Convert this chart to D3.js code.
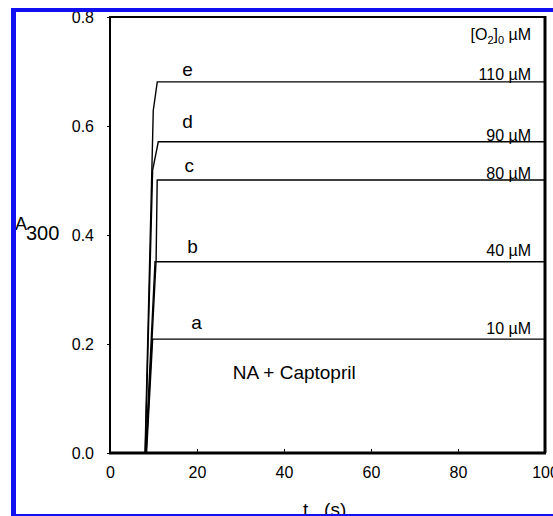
<!DOCTYPE html>
<html>
<head>
<meta charset="utf-8">
<script src="https://cdn.jsdelivr.net/npm/d3@7"></script>
<style>
  body { margin: 0; background: #fff; }
  svg { display: block; font-family: "Liberation Sans", Arial, sans-serif; }
  .tick text { font-size: 16px; fill: #000; }
</style>
</head>
<body>
<svg id="chart" width="553" height="516"></svg>
<script>
// ── Data ──────────────────────────────────────────────────────────────────────
const curveNames = ["a", "b", "c", "d", "e"];
const concLabels = ["10 µM", "40 µM", "80 µM", "90 µM", "110 µM"];
// time (s) and A300 points for each trace: fast rise then flat plateau
const seriesT = [
  [8.4, 9.8, 100],
  [8.2, 10.35, 100],
  [8.3, 10.6, 10.85, 100],
  [8.1, 9.8, 11.1, 100],
  [8.05, 9.95, 10.87, 100]
];
const seriesA = [
  [0, 0.209, 0.209],
  [0, 0.351, 0.351],
  [0, 0.354, 0.501, 0.501],
  [0, 0.519, 0.571, 0.571],
  [0, 0.629, 0.681, 0.681]
];
// where the curve letters and the concentration labels sit (data units)
const letterT = [19.9, 19, 18.2, 17.8, 17.8];
const letterA = [0.2275, 0.367, 0.516, 0.596, 0.692];
const concA   = [0.218, 0.361, 0.503, 0.572, 0.684];
const xTicks = [0, 20, 40, 60, 80, 100];
const yTicks = [0.0, 0.2, 0.4, 0.6, 0.8];

// ── Layout ────────────────────────────────────────────────────────────────────
const svg = d3.select("#chart");
const L = 110, R = 545, T = 17, B = 453;

const x = d3.scaleLinear().domain([0, 100]).range([L, R]);
const y = d3.scaleLinear().domain([0, 0.8]).range([B, T]);

// frame
svg.append("rect")
  .attr("x", L).attr("y", T).attr("width", R - L).attr("height", B - T)
  .attr("fill", "none").attr("stroke", "#000").attr("stroke-width", 2);
svg.append("line")
  .attr("x1", L - 1).attr("x2", R + 1).attr("y1", B).attr("y2", B)
  .attr("stroke", "#000").attr("stroke-width", 3);
svg.append("line")
  .attr("x1", R).attr("x2", R).attr("y1", T - 1).attr("y2", B)
  .attr("stroke", "#000").attr("stroke-width", 3);

// axes
const xAxis = svg.append("g")
  .attr("transform", `translate(0,${B})`)
  .call(d3.axisBottom(x).tickValues(xTicks).tickFormat(d3.format("d"))
    .tickSizeInner(-4).tickSizeOuter(0).tickPadding(12));
xAxis.select(".domain").remove();
xAxis.selectAll(".tick line").attr("stroke", "#000");
xAxis.selectAll(".tick text").attr("dy", "0.71em").attr("y", 14);

const yAxis = svg.append("g")
  .attr("transform", `translate(${L},0)`)
  .call(d3.axisLeft(y).tickValues(yTicks).tickFormat(d3.format(".1f"))
    .tickSizeInner(3).tickSizeOuter(0).tickPadding(13));
yAxis.select(".domain").remove();
yAxis.selectAll(".tick line").attr("stroke", "#000");

// traces
const line = d3.line().x(d => x(d[0])).y(d => y(d[1]));
const traces = seriesT.map((ts, i) => ts.map((t, j) => [t, seriesA[i][j]]));

svg.append("g")
  .selectAll("path").data(traces).join("path")
  .attr("d", line)
  .attr("fill", "none")
  .attr("stroke", "#000")
  .attr("stroke-width", 1.4);

// curve letters
svg.append("g")
  .selectAll("text").data(curveNames).join("text")
  .attr("x", (d, i) => x(letterT[i]))
  .attr("y", (d, i) => y(letterA[i]))
  .attr("text-anchor", "middle")
  .style("font-size", "19px")
  .text(d => d);

// concentration labels
svg.append("g")
  .selectAll("text").data(concLabels).join("text")
  .attr("x", x(96.8))
  .attr("y", (d, i) => y(concA[i]))
  .attr("text-anchor", "end")
  .style("font-size", "16px")
  .text(d => d);

// [O2]0 µM header
const hdr = svg.append("text")
  .attr("x", x(96.8)).attr("y", 40)
  .attr("text-anchor", "end")
  .style("font-size", "16px");
hdr.append("tspan").text("[O");
hdr.append("tspan").attr("dy", 4).style("font-size", "11px").text("2");
hdr.append("tspan").attr("dy", -4).text("]");
hdr.append("tspan").attr("dy", 4).style("font-size", "11px").text("0");
hdr.append("tspan").attr("dy", -4).text(" µM");

svg.append("text")
  .attr("x", x(28.2)).attr("y", y(0.135))
  .style("font-size", "19px")
  .text("NA + Captopril");

// axis titles
svg.append("text").attr("x", 15).attr("y", 230)
  .style("font-size", "18px").text("A");
svg.append("text").attr("x", 26).attr("y", 240)
  .style("font-size", "20px").text("300");

svg.append("text")
  .attr("x", 303).attr("y", 516)
  .style("font-size", "19px")
  .style("white-space", "pre")
  .text("t   (s)");

// blue outer border
const blue = "#1010f0";
svg.append("rect").attr("x", 11).attr("y", 8).attr("width", 5).attr("height", 508).attr("fill", blue);
svg.append("rect").attr("x", 11).attr("y", 8).attr("width", 542).attr("height", 4).attr("fill", blue);
svg.append("rect").attr("x", 11).attr("y", 514).attr("width", 542).attr("height", 2).attr("fill", blue);
</script>
</body>
</html>
